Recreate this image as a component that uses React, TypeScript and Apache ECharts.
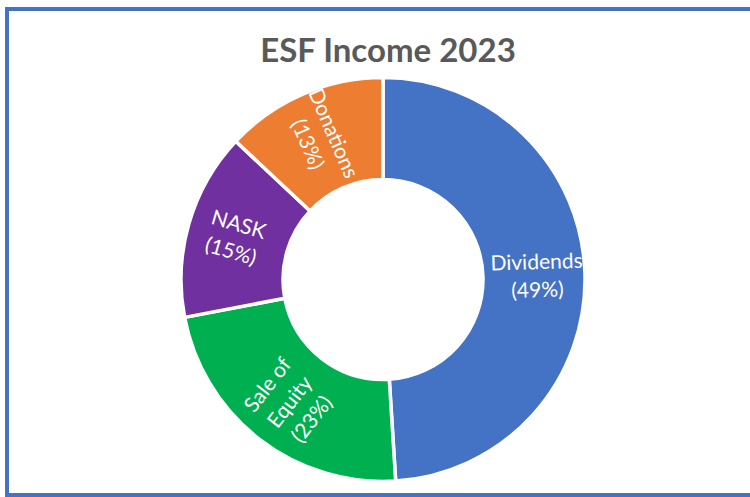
import React, { useEffect, useRef } from "react";
import * as echarts from "echarts";

const titleText = "ESF Income 2023";
const categories = ["Dividends", "Sale of Equity", "NASK", "Donations"];
const values = [49, 23, 15, 13];
const colors = ["#4472C4", "#00B050", "#7030A0", "#ED7D31"];

export default function App() {
  const ref = useRef<HTMLDivElement>(null);
  useEffect(() => {
    document.body.style.margin = "0";
    const chart = echarts.init(ref.current!, null, { renderer: "svg" });
    chart.setOption({
      animation: false,
      backgroundColor: "#ffffff",
      title: {
        text: titleText,
        left: 383,
        textAlign: "center",
        top: 27,
        textStyle: {
          fontFamily: "Lato",
          fontWeight: "bold",
          fontSize: 33,
          lineHeight: 33,
          color: "#595959",
        },
      },
      graphic: [
        {
          type: "rect",
          shape: { x: 7, y: 9, width: 800, height: 486 },
          style: { fill: "none", stroke: "#4472C4", lineWidth: 4 },
          z: 10,
        },
      ],
      series: [
        {
          type: "pie",
          center: [383, 279.5],
          radius: [100, 202],
          startAngle: 90,
          clockwise: true,
          avoidLabelOverlap: false,
          itemStyle: { borderColor: "#ffffff", borderWidth: 3.5 },
          label: {
            show: true,
            position: "inside",
            rotate: "radial",
            color: "#ffffff",
            fontFamily: "Lato",
            fontSize: 21,
            lineHeight: 28,
            align: "center",
            formatter: (p: any) =>
              p.name.replace("Sale of ", "Sale of\n") + "\n(" + Math.round(p.percent) + "%)",
          },
          labelLine: { show: false },
          emphasis: { disabled: true },
          data: categories.map((c, i) => ({
            name: c,
            value: values[i],
            itemStyle: { color: colors[i] },
          })),
        },
      ],
    });
    return () => chart.dispose();
  }, []);
  return <div ref={ref} style={{ position: "absolute", left: 0, top: 0, width: 750, height: 497 }} />;
}
